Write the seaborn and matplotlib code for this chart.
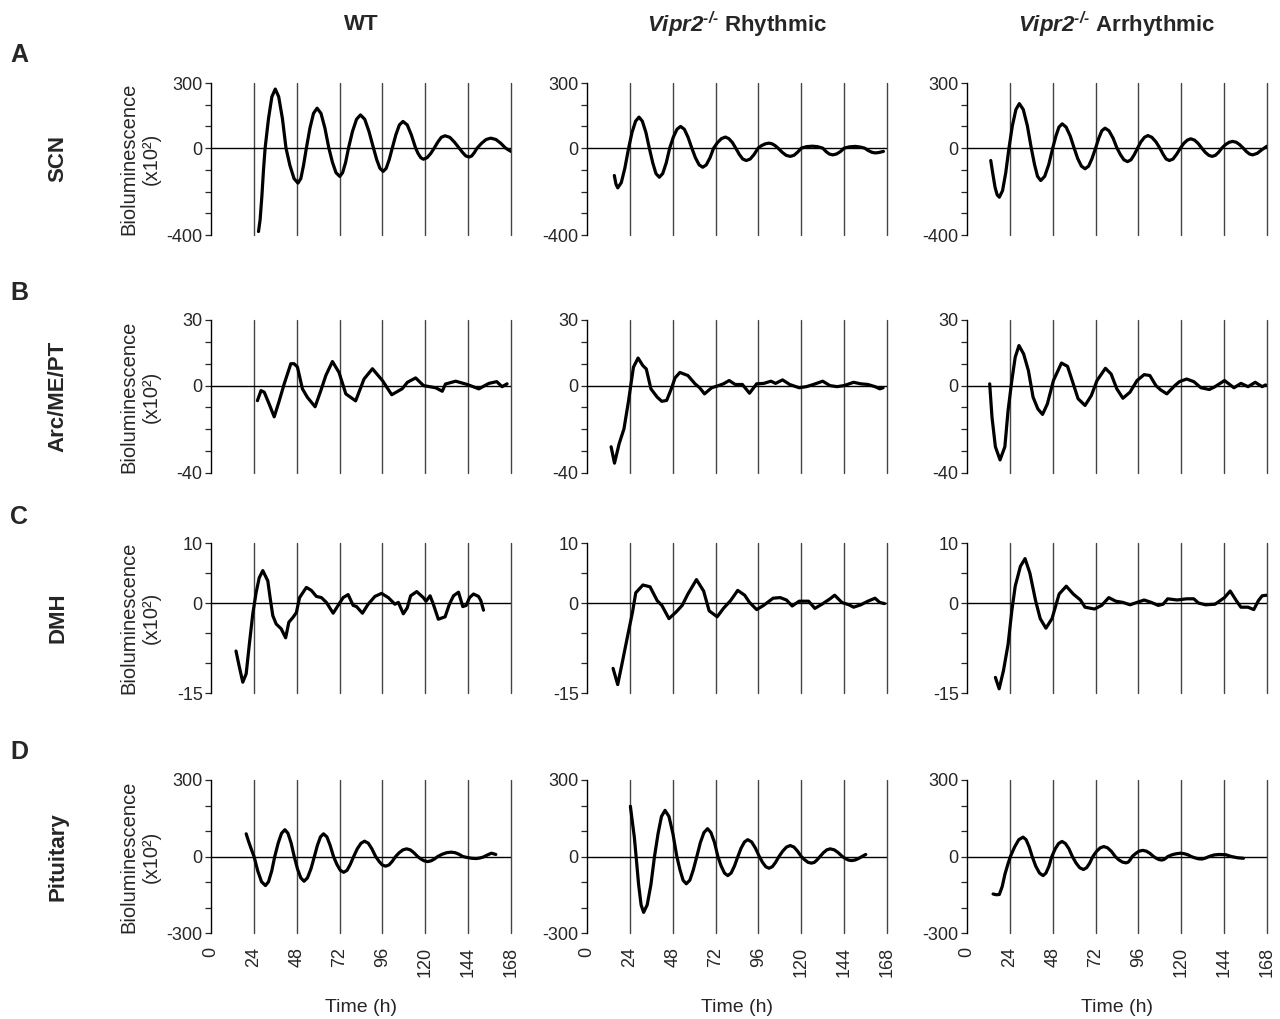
import numpy as np
import pandas as pd
import seaborn as sns
import matplotlib
matplotlib.use("Agg")
import matplotlib.pyplot as plt

# values: time (h) and bioluminescence (x10^2)
scn_wt_t = [26.6, 27.5, 28.5, 29.4, 30.3, 32.2, 34.1, 36, 37.9, 40, 42, 44.2, 46.5, 48.7, 50.3, 51.8, 53.4, 55.4, 57.4,
            59.4, 61.6, 63.8, 66, 68, 70, 72.1, 73.7, 75.4, 77, 79.2, 81.5, 83.7, 86.1, 88.5, 91, 92.8, 94.6, 96.4, 98.1,
            99.8, 101.5, 103.5, 105.5, 107.5, 109.9, 112.2, 114.6, 116, 117.5, 118.9, 121, 123, 125, 127, 129, 131,
            133.7, 136.3, 139, 140.9, 142.7, 144.6, 146, 147.5, 149, 151.6, 154.1, 156.7, 159.5, 162.2, 165, 168]
scn_wt_v = [-384, -330, -220, -100, 0, 136, 237, 272, 237, 136, 0, -80, -140, -161, -140, -80, 0, 92, 160, 184, 160, 92,
            0, -65, -113, -130, -113, -65, 0, 76, 133, 153, 133, 76, 0, -53, -93, -107, -93, -53, 0, 61, 107, 123, 107,
            61, 0, -25, -44, -51, -44, -25, 0, 28, 50, 57, 50, 28, 0, -20, -36, -41, -36, -20, 0, 23, 40, 46, 40, 23, 0,
            -15]

scn_rhy_t = [15.3, 16.2, 17.2, 19.2, 21.2, 23.3, 25.2, 27.2, 29.1, 31, 33, 34.9, 36.8, 38.6, 40.5, 42.4, 44.4, 46.3,
             48.3, 50.4, 52.4, 54.5, 56.6, 58.7, 60.7, 62.8, 64.8, 66.8, 68.9, 70.9, 73.1, 75.3, 77.5, 79.4, 81.4, 83.3,
             85.3, 87.2, 89.2, 91.4, 93.6, 95.8, 97.8, 99.9, 101.9, 103.6, 105.3, 107, 109.3, 111.5, 113.8, 115.9, 117.9,
             120, 123, 126.2, 129, 132, 133.9, 135.7, 137.6, 139.7, 141.9, 144, 147, 150.3, 153, 155.5, 157.5, 159.5,
             161.4, 163.5, 166]
scn_rhy_v = [-126, -165, -183, -159, -92, 0, 72, 124, 143, 124, 72, 0, -67, -117, -134, -117, -67, 0, 50, 87, 100, 87,
             50, 0, -44, -77, -88, -77, -44, 0, 26, 44, 51, 44, 26, 0, -29, -50, -57, -50, -29, 0, 12, 20, 23, 20, 12, 0,
             -19, -33, -38, -33, -19, 0, 7, 9, 7, 0, -16, -27, -31, -27, -16, 0, 6, 8, 5, 0, -11, -19, -22, -20, -15]

scn_arr_t = [13.3, 14.5, 15.7, 16.9, 18.1, 19.9, 21.7, 23.5, 25.4, 27.4, 29.3, 31.5, 33.8, 36, 37.8, 39.5, 41.3, 43.5,
             45.8, 48, 49.8, 51.5, 53.3, 55.5, 57.8, 60, 62, 64.1, 66.1, 68.1, 70, 72, 73.8, 75.5, 77.3, 79.5, 81.8, 84,
             86, 87.9, 89.9, 91.8, 93.6, 95.5, 97.4, 99.4, 101.3, 103.5, 105.8, 108, 109.8, 111.5, 113.3, 115.4, 117.4,
             119.5, 121.4, 123.4, 125.3, 127.4, 129.4, 131.5, 133.4, 135.4, 137.3, 139.1, 140.9, 142.7, 144.7, 146.8,
             148.8, 150.8, 152.7, 154.7, 156.5, 158.2, 160, 162.5, 165, 168]
scn_arr_v = [-57, -120, -180, -215, -226, -196, -113, 0, 103, 178, 205, 178, 103, 0, -75, -130, -149, -130, -75, 0, 56,
             97, 112, 97, 56, 0, -48, -83, -95, -83, -48, 0, 46, 80, 92, 80, 46, 0, -31, -54, -62, -54, -31, 0, 29, 50,
             58, 50, 29, 0, -28, -50, -57, -50, -28, 0, 22, 37, 43, 37, 22, 0, -19, -33, -38, -33, -19, 0, 16, 27, 31,
             27, 16, 0, -16, -27, -31, -24, -8, 9]

arc_wt_t = [26, 28, 29.8, 32.6, 35.4, 38.2, 41, 44.7, 46.5, 48.4, 51.2, 54, 58.3, 61.5, 64.3, 68, 71.7, 75.5, 81, 85.7,
            90.4, 96, 101.2, 107, 110, 114.6, 119, 125.8, 129.5, 131.3, 137, 143.5, 150, 155.6, 160, 163, 165.8]
arc_wt_v = [-6.9, -2.3, -3, -8.5, -14.3, -7, 0.8, 10, 10, 8.5, -1.5, -5.4, -9.7, -2.3, 4.6, 11, 6, -3.8, -7, 3, 7.7,
            2.3, -4.2, -1.5, 1.5, 3.5, 0, -1, -2.6, 0.7, 2, 0.5, -1.5, 1, 1.8, -0.5, 0.8]

arc_rhy_t = [13.5, 15.4, 18, 20.7, 23.3, 26, 28.6, 31.3, 33.2, 35.8, 39.3, 41.9, 44.6, 47.2, 49.3, 52, 56.5, 60.5, 63.1,
             65.8, 69.8, 73.7, 76.4, 79.6, 83, 87, 91, 95, 99, 103, 105.6, 109.5, 113.5, 118.8, 122.8, 126.8, 132, 136,
             140, 144, 149.3, 153.3, 157.3, 161.3, 164, 165.8]
arc_rhy_v = [-28, -35.5, -26.6, -19.8, -6.8, 8.4, 12.6, 9.1, 7.6, -1.5, -5.3, -7.2, -6.8, -1.5, 3.5, 6, 4.6, 0.8, -1,
             -3.8, -1, 0, 0.8, 2.3, 0.5, 0.5, -3.5, 0.8, 1, 2, 1, 2.6, 0.5, -1, -0.5, 0.5, 2, 0, -0.5, 0, 1.5, 0.8, 0.5,
             -0.5, -1.5, -1]

arc_arr_t = [12.7, 14, 15.9, 18.5, 21.2, 23, 25.1, 27, 29.1, 31.7, 34.4, 37, 39.7, 42.3, 45, 48.4, 52.9, 56.3, 59.5, 62.2,
             66.1, 69.6, 72.8, 77.5, 80.7, 83.9, 87.3, 91.3, 95.2, 99.2, 102.4, 105.8, 108.5, 111.9, 116.4, 119, 123, 127,
             131, 135.7, 138.9, 144.2, 149.5, 153.4, 157.4, 161.4, 165.3, 167.2]
arc_arr_v = [0.8, -14.5, -28, -34, -28, -11.4, 2.3, 13, 18.3, 14.5, 6.8, -5.3, -10.7, -13.2, -8.4, 2.3, 10.3, 8.8, 0.8,
             -6, -9.1, -4.6, 2.3, 7.9, 5.3, -1.5, -5.8, -3, 2.3, 5, 4.6, 0, -2, -3.8, 0, 1.8, 3, 1.8, -1, -1.8, -0.5, 2.3,
             -1, 1, -0.5, 1.5, -0.5, 0.3]

dmh_wt_t = [14, 15.9, 17.8, 19.7, 21.5, 23.4, 25.3, 27, 29, 31.8, 33.1, 34.6, 36.5, 39.3, 41.8, 43.6, 45.9, 47.8, 49.6,
            53.4, 56.2, 59, 61.8, 64.6, 68.4, 71.2, 74, 76.8, 79.6, 81.5, 84.8, 88, 91.8, 95.5, 99.3, 103, 104.9, 107.7,
            109.9, 111.8, 115.2, 118.9, 120.4, 122.7, 124.5, 127.3, 131.1, 133.5, 135.8, 138.6, 141, 142.9, 144.8, 147,
            149.8, 151.1, 152.6]
dmh_wt_v = [-8, -10.7, -13.2, -11.8, -6.8, -1.8, 1.8, 4.2, 5.4, 3.7, 0.9, -2.1, -3.5, -4.3, -5.8, -3.2, -2.4, -1.6, 0.9,
            2.6, 2.1, 1.1, 0.9, 0.1, -1.7, -0.4, 0.9, 1.4, -0.4, -0.6, -1.7, -0.2, 1.1, 1.6, 0.9, -0.2, 0.1, -1.8, -0.8,
            1.2, 1.9, 0.9, 0.3, 1.2, -0.2, -2.7, -2.3, -0.2, 1.2, 1.8, -0.6, -0.4, 0.9, 1.5, 1.1, 0.4, -1.2]

dmh_rhy_t = [14.6, 17.2, 19.9, 22.8, 25.5, 27.3, 31.3, 35.3, 39.3, 41.9, 45.9, 49.9, 53.3, 56.5, 61.3, 65.3, 68.4, 72.9,
             76.4, 80.4, 84.4, 88.3, 91, 95, 98.9, 104.2, 108.2, 111.7, 114.9, 118.8, 124.1, 127.6, 132.1, 136.1, 138.7,
             142.7, 146.7, 149.3, 153.3, 157.3, 161.3, 163.9, 166.6]
dmh_rhy_v = [-10.9, -13.6, -9.7, -5.4, -1.5, 1.7, 3, 2.7, 0.4, -0.4, -2.6, -1.5, -0.4, 1.5, 3.9, 2, -1.3, -2.3, -0.9,
             0.4, 2.1, 1.3, 0.1, -1.1, -0.4, 0.8, 0.9, 0.5, -0.5, 0.3, 0.3, -0.9, -0.1, 0.7, 1.3, 0.1, -0.3, -0.7, -0.3,
             0.3, 0.8, 0.1, -0.1]

dmh_arr_t = [15.9, 18, 20.4, 23, 25.1, 27, 29.9, 32.5, 35.2, 38.4, 41, 44.2, 47.6, 51.6, 55.6, 59.5, 63.5, 66.1, 71.4,
             75.4, 79.4, 83.3, 87.3, 91.3, 95.2, 99.2, 103.2, 107.1, 109.8, 112.4, 117.7, 123, 127, 129.6, 133.6, 138.9,
             144.2, 147.4, 150.8, 153.4, 157.4, 160.6, 163.2, 165.3, 168]
dmh_arr_v = [-12.4, -14.3, -11.3, -6.9, -1.3, 2.8, 6.1, 7.4, 5, 0.4, -2.6, -4.2, -2.6, 1.5, 2.8, 1.5, 0.5, -0.7, -1,
             -0.4, 0.9, 0.3, 0.1, -0.3, 0.1, 0.5, 0.1, -0.4, -0.2, 0.7, 0.5, 0.7, 0.7, 0, -0.3, -0.2, 0.9, 2, 0.4, -0.7,
             -0.7, -1.1, 0.4, 1.2, 1.3]

pit_wt_t = [19.7, 21, 22.5, 24.1, 26.2, 28.3, 30.5, 32.2, 34, 35.7, 37.6, 39.5, 41.4, 43.1, 44.9, 46.6, 48.4, 50.3, 52.1,
            54, 56, 57.9, 59.6, 61.3, 63, 64.9, 66.7, 68.6, 70.5, 72.4, 74.3, 76.2, 78, 79.9, 81.9, 84, 86, 88.1, 90.1,
            92.2, 94.1, 95.9, 97.8, 99.7, 101.5, 103.4, 105.4, 107.5, 109.5, 111.6, 113.6, 115.7, 117.6, 119.4, 121.3,
            123.2, 125.1, 127, 129.5, 132, 134.5, 136.7, 138.8, 141, 143.5, 146, 148.6, 150.5, 152.5, 154.5, 157, 159.5]
pit_wt_v = [89, 60, 30, 0, -57, -99, -114, -99, -57, 0, 52, 91, 105, 91, 52, 0, -48, -84, -97, -84, -48, 0, 44, 77, 89,
            77, 44, 0, -31, -54, -62, -54, -31, 0, 30, 52, 60, 52, 30, 0, -19, -33, -38, -33, -19, 0, 15, 26, 30, 26, 15,
            0, -10, -17, -20, -17, -10, 0, 9, 15, 17, 15, 9, 0, -4, -7, -8, -6, -2, 5, 13, 8]

pit_rhy_t = [24.3, 25.5, 26.5, 27.5, 28.9, 30.3, 31.7, 33.7, 35.8, 37.8, 39.8, 41.7, 43.7, 45.9, 48.1, 50.3, 52.1, 53.8,
             55.6, 57.6, 59.5, 61.5, 63.5, 65.5, 67.5, 69.4, 71.4, 73.3, 75.1, 77, 78.8, 80.7, 82.6, 84.5, 86.3, 88.2, 90,
             92.2, 94.3, 96.5, 98.3, 100.1, 101.9, 103.8, 105.6, 107.5, 109.6, 111.7, 113.8, 115.9, 117.9, 120, 121.9,
             123.8, 125.7, 127.3, 128.9, 130.5, 132.4, 134.3, 136.2, 138.5, 140.7, 143, 144.7, 146.4, 148.1, 150, 152,
             154, 156.1]
pit_rhy_v = [197, 130, 76, 0, -110, -190, -219, -190, -110, 0, 90, 157, 181, 157, 90, 0, -53, -93, -107, -93, -53, 0,
             55, 94, 109, 94, 55, 0, -37, -65, -75, -65, -37, 0, 33, 57, 66, 57, 33, 0, -23, -40, -46, -40, -23, 0, 21,
             37, 43, 37, 21, 0, -13, -23, -26, -23, -13, 0, 15, 26, 30, 26, 15, 0, -8, -14, -16, -14, -8, 0, 8]

pit_arr_t = [14.6, 16.4, 18.1, 19.7, 21.3, 22.9, 24.3, 26.7, 29, 31.4, 33.1, 34.8, 36.5, 38.5, 40.6, 42.6, 44.2, 45.9,
             47.5, 49.4, 51.3, 53.2, 55.1, 57.1, 59, 61.1, 63.1, 65.2, 67, 68.7, 70.5, 72.5, 74.6, 76.6, 78.7, 80.9, 83,
             85, 87.1, 89.1, 90.3, 91.4, 92.5, 94.5, 96.4, 98.4, 100.4, 102.5, 104.5, 106, 107.5, 109, 110.2, 111.3,
             112.5, 114.9, 117.3, 119.7, 121.6, 123.6, 125.5, 127.5, 129.6, 131.6, 133.6, 135.6, 138.3, 141, 144.9, 148,
             151.5, 154.8]
pit_arr_v = [-147, -150, -149, -118, -68, -30, 0, 38, 66, 76, 66, 38, 0, -38, -65, -75, -65, -38, 0, 30, 51, 59, 51, 30,
             0, -26, -44, -51, -44, -26, 0, 20, 34, 39, 34, 20, 0, -13, -22, -25, -22, -13, 0, 12, 21, 24, 21, 12, 0, -7,
             -12, -14, -12, -7, 0, 7, 11, 13, 11, 7, 0, -5, -9, -10, -6, 0, 6, 8, 7, 0, -5, -7]

col_titles = ["WT", "$\\mathbfit{Vipr2}^{\\mathbfit{\u2010/\u2010}}$ Rhythmic",
              "$\\mathbfit{Vipr2}^{\\mathbfit{\u2010/\u2010}}$ Arrhythmic"]
row_names = ["SCN", "Arc/ME/PT", "DMH", "Pituitary"]
row_letters = ["A", "B", "C", "D"]
y_top = [300, 30, 10, 300]
y_bottom = [-400, -40, -15, -300]
y_step = [100, 10, 5, 100]
x_ticks = [0, 24, 48, 72, 96, 120, 144, 168]

series = [
    [(scn_wt_t, scn_wt_v), (scn_rhy_t, scn_rhy_v), (scn_arr_t, scn_arr_v)],
    [(arc_wt_t, arc_wt_v), (arc_rhy_t, arc_rhy_v), (arc_arr_t, arc_arr_v)],
    [(dmh_wt_t, dmh_wt_v), (dmh_rhy_t, dmh_rhy_v), (dmh_arr_t, dmh_arr_v)],
    [(pit_wt_t, pit_wt_v), (pit_rhy_t, pit_rhy_v), (pit_arr_t, pit_arr_v)],
]

sns.set_style("white")
plt.rcParams['font.family'] = ['Liberation Sans', 'DejaVu Sans']
plt.rcParams['mathtext.fontset'] = 'custom'
plt.rcParams['mathtext.rm'] = 'Liberation Sans'
plt.rcParams['mathtext.bf'] = 'Liberation Sans:bold'
plt.rcParams['mathtext.bfit'] = 'Liberation Sans:italic:bold'

W, H = 1280, 1019
fig = plt.figure(figsize=(12.8, 10.19), dpi=100)

col_left = [211, 587, 967]
col_width = 300
row_px = [(83, 235), (320, 473), (543, 693), (780, 933)]

for r in range(4):
    top, bot = row_px[r]
    for c in range(3):
        ax = fig.add_axes([col_left[c] / W, 1 - bot / H, col_width / W, (bot - top) / H])
        t, v = series[r][c]
        df = pd.DataFrame({"t": t, "v": v})
        for xv in x_ticks[1:]:
            ax.axvline(xv, color="#444444", lw=1.0, clip_on=False, zorder=1)
        ax.axhline(0, color="black", lw=1.0, zorder=2)
        sns.lineplot(data=df, x="t", y="v", ax=ax, color="black", lw=2.3, sort=False,
                     estimator=None, zorder=3, solid_joinstyle="round", solid_capstyle="round")
        ax.set_xlim(0, 168)
        ax.set_ylim(y_bottom[r], y_top[r])
        yt = list(range(y_bottom[r], y_top[r] + 1, y_step[r]))
        ax.set_yticks(yt)
        ax.set_yticklabels([str(y) if y in (y_bottom[r], 0, y_top[r]) else "" for y in yt])
        ax.tick_params(axis="y", direction="out", length=4, width=0.9, labelsize=13, pad=2, left=True)
        for s in ["top", "right", "bottom"]:
            ax.spines[s].set_visible(False)
        ax.spines["left"].set_linewidth(1.0)
        ax.spines["left"].set_color("black")
        ax.set_xlabel("")
        ax.set_ylabel("")
        if r == 3:
            ax.set_xticks(x_ticks)
            ax.set_xticklabels([str(x) for x in x_ticks], rotation=90)
            ax.tick_params(axis="x", length=0, labelsize=13, pad=10)
            fig.text((col_left[c] + col_width / 2) / W, 1 - 1007 / H, "Time (h)",
                     ha="center", va="center", fontsize=14)
        else:
            ax.set_xticks([])
        if r == 0:
            fig.text((col_left[c] + col_width / 2) / W, 1 - 25 / H, col_titles[c],
                     ha="center", va="center", fontsize=16, fontweight="bold")
        if c == 0:
            fig.text(140 / W, 1 - (top + bot) / 2 / H, "Bioluminescence\n(x10\u00b2)", rotation=90,
                     ha="center", va="center", fontsize=14.5, linespacing=1.2, multialignment="center")
    fig.text(58 / W, 1 - (top + bot) / 2 / H, row_names[r], rotation=90, ha="center", va="center",
             fontsize=16, fontweight="bold")

letter_y = [55, 293, 517, 752]
for r in range(4):
    fig.text(10 / W, 1 - letter_y[r] / H, row_letters[r], ha="left", va="center",
             fontsize=18, fontweight="bold")

fig.savefig("out.png", dpi=100)
